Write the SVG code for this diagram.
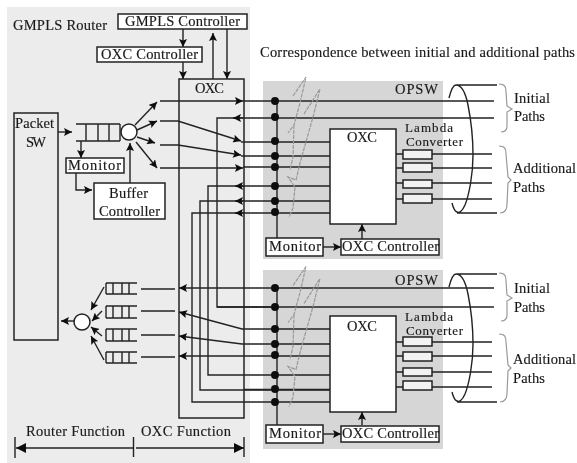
<svg xmlns="http://www.w3.org/2000/svg" width="577" height="463" viewBox="0 0 577 463">
<style>
text{font-family:"Liberation Serif","Times New Roman",serif;font-size:14.5px;fill:#1a1a1a;stroke:#1a1a1a;stroke-width:.15}
.l{font-size:13px}
.b{fill:#fff;stroke:#222;stroke-width:1.5}
.c{fill:#f2f2f2;stroke:#222;stroke-width:1.5}
.s{fill:none;stroke:#222;stroke-width:1.4}
.a{marker-end:url(#h)}
.q{fill:none;stroke:#222;stroke-width:1.4}
.g{fill:none;stroke:#999;stroke-width:1.2}
.d{fill:none;stroke:#999;stroke-width:1.2;stroke-dasharray:4 1}
</style>
<defs>
<marker id="h" markerUnits="userSpaceOnUse" markerWidth="9" markerHeight="8" refX="8" refY="4" orient="auto"><path d="M0 0L8 4L0 8L1.5 4Z" fill="#111"/></marker>
<marker id="hs" markerUnits="userSpaceOnUse" markerWidth="11" markerHeight="10" refX="10" refY="5" orient="auto-start-reverse"><path d="M0 0L10 5L0 10Z" fill="#111"/></marker>
<filter id="soft" x="0" y="0" width="100%" height="100%"><feGaussianBlur stdDeviation="0.35"/></filter>
<path id="squig" d="M293 96L306 77L300 103L294 125L288 133M294 125L293 157L290 170M304 114L320 89L313 117L300 163L296 180L288 177L295 187L293 208L289 217"/>
</defs>
<rect width="577" height="463" fill="#fff"/>
<g filter="url(#soft)">
<g id="router-bg"><rect x="7" y="7" width="243" height="456" fill="#ececec"/></g>
<g id="opsw-bg"><rect x="263" y="81" width="180" height="178" fill="#d6d6d6"/><rect x="263" y="270" width="180" height="179" fill="#d6d6d6"/></g>

<g id="oxc-main"><rect x="179" y="79" width="65" height="339" fill="none" stroke="#222" stroke-width="1.5"/><text x="195" y="93" textLength="29" lengthAdjust="spacing">OXC</text></g>
<g id="opsw1-oxc"><rect class="b" x="330" y="129" width="66" height="95"/><text x="347" y="142" textLength="30" lengthAdjust="spacing">OXC</text></g>
<g id="opsw2-oxc"><rect class="b" x="330" y="316" width="66" height="96"/><text x="347" y="331" textLength="30" lengthAdjust="spacing">OXC</text></g>

<g id="connectors">
<path class="s a" d="M183 29V47"/><path class="s a" d="M183 62V79"/><path class="s a" d="M213 79V33"/><path class="s a" d="M227 29V79"/>
<path class="s a" d="M58 132H72"/><path class="s a" d="M81 141V158"/><path class="s a" d="M76 173V190H92"/><path class="s a" d="M130 183V143"/>
<path class="s a" d="M135 125L157 102"/><path class="s a" d="M137 130L157 121"/><path class="s a" d="M137 137L155 143"/><path class="s a" d="M136 142L157 168"/>
<path class="s a" d="M160 101H243"/><path class="s" d="M243 101H494"/>
<path class="s a" d="M160 121H178L241 141"/><path class="s" d="M241 142H330"/>
<path class="s a" d="M160 145H178L241 155"/><path class="s" d="M241 156H330"/>
<path class="s a" d="M160 168H243"/><path class="s" d="M243 167H330"/>
<path class="s" d="M494 118H233"/><path class="s a" d="M243 118H233"/><path class="s" d="M234 118H217V307H277"/>
<path class="s" d="M330 186H208V375H330"/><path class="s a" d="M244 186H235"/>
<path class="s" d="M330 201H200V390H330"/><path class="s a" d="M244 201H235"/>
<path class="s" d="M330 213H192V402H330"/><path class="s a" d="M244 213H235"/>
<path class="s" d="M277 101V238"/>
<path class="s" d="M141 289H175"/><path class="s a" d="M494 288H179"/>
<path class="s" d="M141 311H175"/><path class="s a" d="M330 329H242L179 312"/>
<path class="s" d="M141 335H175"/><path class="s a" d="M330 344H242L179 336"/>
<path class="s" d="M141 357H175"/><path class="s a" d="M330 356H179"/>
<path class="s" d="M217 307H494"/>
<path class="s" d="M244 389.5H330" stroke-width="2.2"/>
<path class="s" d="M277 288V425"/>
<path class="s a" d="M74 321H61"/><path class="s a" d="M104 287L91 310"/><path class="s a" d="M102 311L92 321"/><path class="s a" d="M102 336L91 327"/><path class="s a" d="M104 360L91 336"/>
<path class="s" d="M396 154H403M432 154H492M396 168H403M432 168H492M396 183H403M432 183H492M396 199H403M432 199H492"/>
<path class="s" d="M396 342H403M432 342H492M396 356H403M432 356H492M396 372H403M432 372H492M396 387H403M432 387H492"/>
<path class="s a" d="M323 247H341"/><path class="s a" d="M362 239V224"/><path class="s a" d="M323 434H341"/><path class="s a" d="M362 425V412"/>
<g fill="#111"><circle cx="275" cy="101" r="4"/><circle cx="275" cy="117" r="4"/><circle cx="275" cy="141" r="4"/><circle cx="275" cy="156" r="4"/><circle cx="275" cy="167" r="4"/><circle cx="275" cy="186" r="4"/><circle cx="275" cy="201" r="4"/><circle cx="275" cy="212" r="4"/>
<circle cx="275" cy="288" r="4"/><circle cx="275" cy="307" r="4"/><circle cx="275" cy="329" r="4"/><circle cx="275" cy="344" r="4"/><circle cx="275" cy="355" r="4"/><circle cx="275" cy="375" r="4"/><circle cx="275" cy="389" r="4"/><circle cx="275" cy="402" r="4"/></g>
<use href="#squig" class="d"/><use href="#squig" class="d" y="189.5"/>
<path class="s" d="M449 98C451 90 453 85 456 85C462 85 466 95 468 105C471 120 473 140 473 155C473 175 469 195 465 205C462 212 459 213 457 212C454 211 453 207 452 203M456 85H497M457 213H497"/>
<path class="s" d="M449 287C451 279 453 274 456 274C462 274 466 284 468 294C471 309 473 329 473 344C473 364 469 384 465 394C462 401 459 402 457 401C454 400 453 396 452 392M456 274H497M457 402H497"/>
<path class="g" d="M499 84C505 84 506 87 506 92L507 106L512 109L507 112V126C507 130 505 132 501 132"/>
<path class="g" d="M499 146C505 146 506 149 506 154L508 177L511 180L508 183L507 204C507 210 505 213 500 213"/>
<path class="g" d="M499 273C505 273 506 276 506 281L507 295L512 298L507 301V315C507 319 505 321 501 321"/>
<path class="g" d="M499 334C505 334 506 337 506 342L508 365L511 368L508 371L507 393C507 399 505 402 500 402"/>
<path class="s" d="M15 437V458M133.5 437V457M244 437V457" stroke-width="1.2"/>
<path class="s" d="M16 448H133M136 448H244" marker-start="url(#hs)" marker-end="url(#hs)"/>
</g>

<g id="packet-sw"><rect x="14" y="113" width="44" height="227" fill="none" stroke="#222" stroke-width="1.5"/><text x="15" y="128" textLength="39" lengthAdjust="spacing">Packet</text><text x="26" y="147" textLength="20" lengthAdjust="spacing">SW</text></g>
<g id="gmpls-router-label"><text x="13" y="30" textLength="94" lengthAdjust="spacing">GMPLS Router</text></g>
<g id="gmpls-controller"><rect class="b" x="118" y="14" width="129" height="15"/><text x="125" y="26" textLength="115" lengthAdjust="spacing">GMPLS Controller</text></g>
<g id="oxc-controller"><rect class="b" x="97" y="47" width="105" height="15"/><text x="101" y="59" textLength="97" lengthAdjust="spacing">OXC Controller</text></g>
<g id="queue-in"><path class="q" d="M76 124H120M76 141H120M86 124V141M98 124V141M109 124V141M120 124V141"/></g>
<g id="scheduler-in"><circle class="b" cx="129" cy="132" r="8"/></g>
<g id="monitor"><rect class="b" x="66" y="158" width="58" height="15"/><text x="68" y="170" textLength="53" lengthAdjust="spacing">Monitor</text></g>
<g id="buffer-controller"><rect class="b" x="94" y="183" width="71" height="36"/><text x="109" y="198" textLength="39" lengthAdjust="spacing">Buffer</text><text x="99" y="216" textLength="61" lengthAdjust="spacing">Controller</text></g>
<g id="queues-out"><path class="q" d="M106 283H137M106 294H137M106 283V294M113 283V294M122 283V294M129 283V294"/><path class="q" d="M106 306H137M106 318H137M106 306V318M113 306V318M122 306V318M129 306V318"/><path class="q" d="M106 329H137M106 341H137M106 329V341M113 329V341M122 329V341M129 329V341"/><path class="q" d="M106 352H137M106 363H137M106 352V363M113 352V363M122 352V363M129 352V363"/></g>
<g id="scheduler-out"><circle class="b" cx="82" cy="322" r="8"/></g>
<g id="function-labels"><text x="26" y="436" textLength="99" lengthAdjust="spacing">Router Function</text><text x="141" y="436" textLength="90" lengthAdjust="spacing">OXC Function</text></g>
<g id="title"><text x="260" y="57" textLength="315" lengthAdjust="spacing">Correspondence between initial and additional paths</text></g>

<g id="opsw1">
<text x="395" y="94" textLength="43" lengthAdjust="spacing">OPSW</text>
<text class="l" x="405" y="132" textLength="48" lengthAdjust="spacing">Lambda</text><text class="l" x="406" y="146" textLength="57" lengthAdjust="spacing">Converter</text>
<rect class="c" x="403" y="150" width="29" height="9"/><rect class="c" x="403" y="163" width="29" height="9"/><rect class="c" x="403" y="180" width="29" height="8"/><rect class="c" x="403" y="194" width="29" height="9"/>
<text x="514" y="103" textLength="36" lengthAdjust="spacing">Initial</text><text x="514" y="121" textLength="31" lengthAdjust="spacing">Paths</text>
<text x="513" y="173" textLength="63" lengthAdjust="spacing">Additional</text><text x="513" y="192" textLength="32" lengthAdjust="spacing">Paths</text>
</g>
<g id="opsw1-monitor"><rect class="b" x="266" y="238" width="57" height="18"/><text x="269" y="251" textLength="52" lengthAdjust="spacing">Monitor</text></g>
<g id="opsw1-controller"><rect class="b" x="341" y="239" width="98" height="16"/><text x="342" y="251" textLength="97" lengthAdjust="spacing">OXC Controller</text></g>

<g id="opsw2">
<text x="395" y="285" textLength="43" lengthAdjust="spacing">OPSW</text>
<text class="l" x="405" y="321" textLength="48" lengthAdjust="spacing">Lambda</text><text class="l" x="406" y="335" textLength="57" lengthAdjust="spacing">Converter</text>
<rect class="c" x="403" y="337" width="29" height="9"/><rect class="c" x="403" y="352" width="29" height="9"/><rect class="c" x="403" y="368" width="29" height="8"/><rect class="c" x="403" y="381" width="29" height="9"/>
<text x="514" y="293" textLength="36" lengthAdjust="spacing">Initial</text><text x="514" y="312" textLength="31" lengthAdjust="spacing">Paths</text>
<text x="513" y="364" textLength="63" lengthAdjust="spacing">Additional</text><text x="513" y="383" textLength="32" lengthAdjust="spacing">Paths</text>
</g>
<g id="opsw2-monitor"><rect class="b" x="266" y="425" width="57" height="18"/><text x="269" y="438" textLength="52" lengthAdjust="spacing">Monitor</text></g>
<g id="opsw2-controller"><rect class="b" x="341" y="426" width="98" height="16"/><text x="342" y="438" textLength="97" lengthAdjust="spacing">OXC Controller</text></g>
</g>
</svg>
